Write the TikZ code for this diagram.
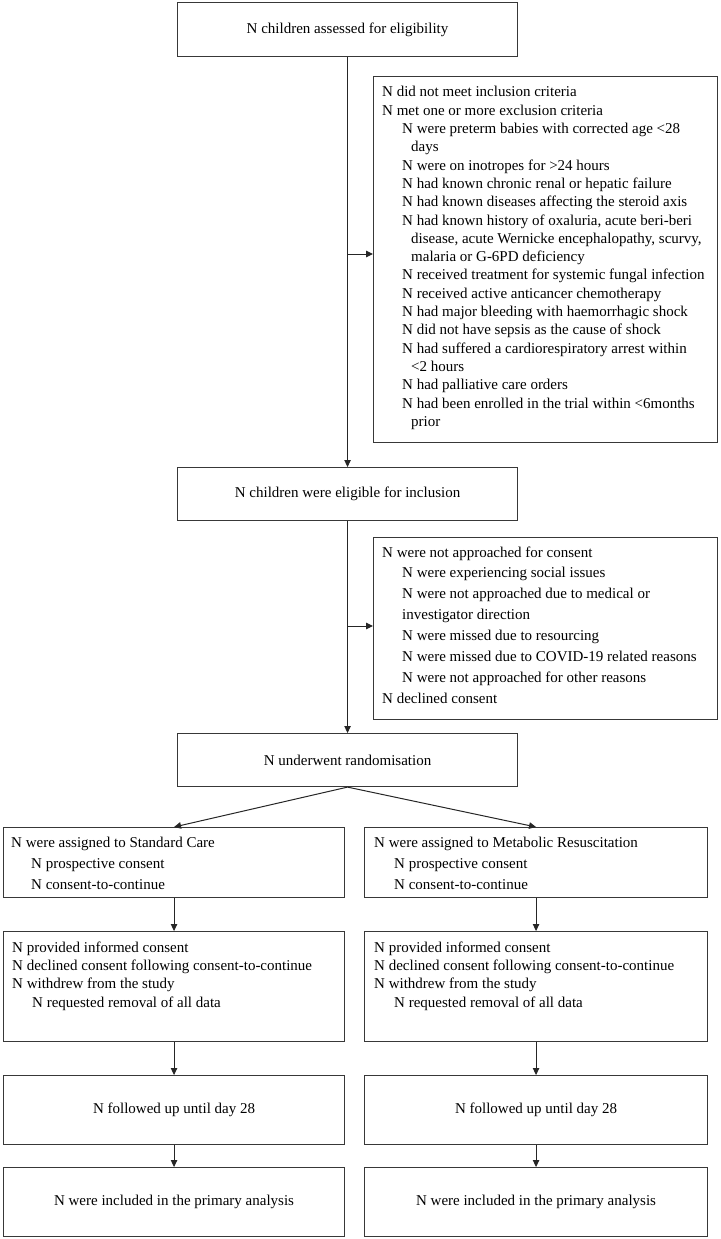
\documentclass[tikz,border=0pt]{standalone}
\usepackage{fontspec}
\setmainfont{Liberation Serif}
\usetikzlibrary{arrows.meta,calc}
\begin{document}
\begin{tikzpicture}[x=1pt,y=-1pt,
  box/.style={draw=black!78, line width=1.1pt, inner sep=0pt, anchor=north west,
    font=\fontsize{15}{18}\selectfont},
  txt/.style={inner sep=0pt, align=left, anchor=west},
  tA/.style={txt, font=\fontsize{15}{18.3}\selectfont},
  tB/.style={txt, font=\fontsize{15}{20.9}\selectfont},
  arr/.style={draw=black!85, line width=1pt, -{Triangle[length=7pt,width=6.5pt]}}]
\useasboundingbox (0,0) rectangle (720,1239);
\newcommand{\ind}{\hspace*{20pt}}
\newcommand{\cnt}{\hspace*{29pt}}
% boxes
\node[box, minimum width=340, minimum height=54] (b1) at (177,2) {N children assessed for eligibility};
\node[box, minimum width=344, minimum height=366] (ex) at (373,76) {};
\node[tA] (exT) at (382,258) {N did not meet inclusion criteria\\
N met one or more exclusion criteria\\
\ind N were preterm babies with corrected age <28\\
\cnt days\\
\ind N were on inotropes for >24 hours\\
\ind N had known chronic renal or hepatic failure\\
\ind N had known diseases affecting the steroid axis\\
\ind N had known history of oxaluria, acute beri-beri\\
\cnt disease, acute Wernicke encephalopathy, scurvy,\\
\cnt malaria or G-6PD deficiency\\
\ind N received treatment for systemic fungal infection\\
\ind N received active anticancer chemotherapy\\
\ind N had major bleeding with haemorrhagic shock\\
\ind N did not have sepsis as the cause of shock\\
\ind N had suffered a cardiorespiratory arrest within\\
\cnt <2 hours\\
\ind N had palliative care orders\\
\ind N had been enrolled in the trial within <6months\\
\cnt prior};
\node[box, minimum width=340, minimum height=53] (b2) at (177,467) {N children were eligible for inclusion};
\node[box, minimum width=344, minimum height=182] (cs) at (373,537) {};
\node[tB] (csT) at (382,625) {N were not approached for consent\\
\ind N were experiencing social issues\\
\ind N were not approached due to medical or\\
\ind investigator direction\\
\ind N were missed due to resourcing\\
\ind N were missed due to COVID-19 related reasons\\
\ind N were not approached for other reasons\\
N declined consent};
\node[box, minimum width=340, minimum height=53] (rnd) at (177,733) {N underwent randomisation};
% left column
\node[box, minimum width=341, minimum height=70] (sc) at (3,827) {};
\node[tB] (scT) at (11,863) {N were assigned to Standard Care\\
\ind N prospective consent\\
\ind N consent-to-continue};
\node[box, minimum width=341, minimum height=110] (oc1) at (3,931) {};
\node[tA] (oc1T) at (12,976) {N provided informed consent\\
N declined consent following consent-to-continue\\
N withdrew from the study\\
\ind N requested removal of all data};
\node[box, minimum width=341, minimum height=69] (fu1) at (3,1075) {N followed up until day 28};
\node[box, minimum width=341, minimum height=69] (in1) at (3,1167) {N were included in the primary analysis};
% right column
\node[box, minimum width=343, minimum height=70] (mr) at (364,827) {};
\node[tB] (mrT) at (374,863) {N were assigned to Metabolic Resuscitation\\
\ind N prospective consent\\
\ind N consent-to-continue};
\node[box, minimum width=343, minimum height=110] (oc2) at (364,931) {};
\node[tA] (oc2T) at (374,976) {N provided informed consent\\
N declined consent following consent-to-continue\\
N withdrew from the study\\
\ind N requested removal of all data};
\node[box, minimum width=343, minimum height=69] (fu2) at (364,1075) {N followed up until day 28};
\node[box, minimum width=343, minimum height=69] (in2) at (364,1167) {N were included in the primary analysis};
% connectors
\draw[arr] (b1.south) -- (b2.north);
\coordinate (j1) at (347,254);
\draw[arr] (j1) -- (j1 -| ex.west);
\draw[arr] (b2.south) -- (rnd.north);
\coordinate (j2) at (347,626);
\draw[arr] (j2) -- (j2 -| cs.west);
\draw[arr] (rnd.south) -- (sc.north);
\draw[arr] (rnd.south) -- (mr.north);
\draw[arr] (sc.south) -- (oc1.north);
\draw[arr] (oc1.south) -- (fu1.north);
\draw[arr] (fu1.south) -- (in1.north);
\draw[arr] (mr.south) -- (oc2.north);
\draw[arr] (oc2.south) -- (fu2.north);
\draw[arr] (fu2.south) -- (in2.north);
\end{tikzpicture}
\end{document}
